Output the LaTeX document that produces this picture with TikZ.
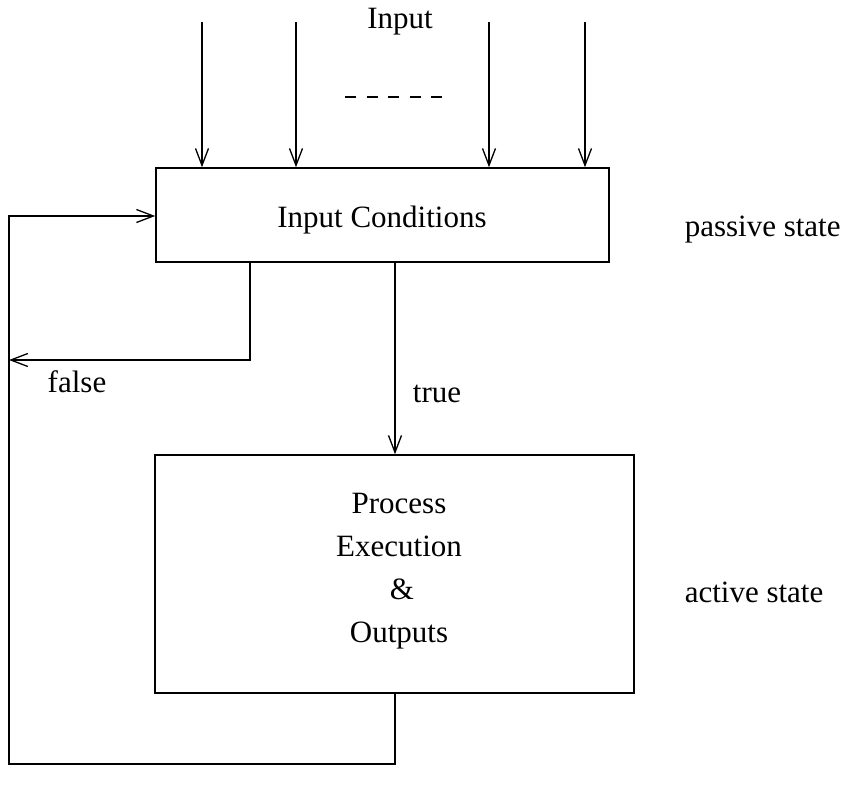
\documentclass[tikz,border=0pt]{standalone}
\usepackage{fontspec}
\setmainfont{Liberation Serif}
\usetikzlibrary{arrows.meta}
\begin{document}
\begin{tikzpicture}[x=1pt,y=-1pt,
  line width=1.5pt,
  box/.style={draw, rectangle, minimum width=#1, inner sep=0pt},
  lbl/.style={inner sep=0pt, font=\fontsize{31}{43}\selectfont},
  flow/.style={-{Straight Barb[length=17pt,width=13pt,line width=1.3pt]}},
  wire/.style={line cap=butt}]
  \useasboundingbox (0,0) rectangle (843,793);

  % condition block and process block
  \node[box=453pt, minimum height=94pt] (cond) at (382.5,215) {};
  \node[lbl] (condtxt) at (382,220) {Input Conditions};
  \node[box=479pt, minimum height=238pt] (proc) at (394.5,574) {};
  \node[lbl, align=center] (proctxt) at (399,571)
    {Process\\Execution\\\hspace*{6pt}\&\\Outputs};

  % labels
  \node[lbl] (inlbl) at (400,22) {Input};
  \node[lbl, anchor=west] (passive) at (684,230) {passive state};
  \node[lbl, anchor=west] (active) at (684,592) {active state};
  \node[lbl] (falselbl) at (77,382) {false};
  \node[lbl] (truelbl) at (437,394) {true};

  % incoming inputs
  \foreach \xx/\n in {202/a,296/b,489/c,585/d} {
    \coordinate (src\n) at (\xx,22);
    \draw[flow] (src\n) -- (src\n |- cond.north);
  }
  \coordinate (dl) at (345,97);
  \coordinate (dr) at (444,97);
  \draw[dash pattern=on 11pt off 10.5pt] (dl) -- (dr);

  % true branch
  \coordinate (tstart) at (395,262);
  \draw[flow] (tstart |- cond.south) -- (tstart |- proc.north);

  % false branch back to the return line
  \coordinate (fstart) at (250,262);
  \coordinate (fcorner) at (250,360);
  \coordinate (fend) at (9,360);
  \draw[flow] (fstart |- cond.south) -- (fcorner) -- (fend);

  % return path from the process block
  \coordinate (rstart) at (395,693);
  \coordinate (rb) at (395,764);
  \coordinate (lb) at (9,764);
  \coordinate (lt) at (9,216);
  \draw[flow] (rstart |- proc.south) -- (rb) -- (lb) -- (lt) -- (lt -| cond.west);
\end{tikzpicture}
\end{document}
